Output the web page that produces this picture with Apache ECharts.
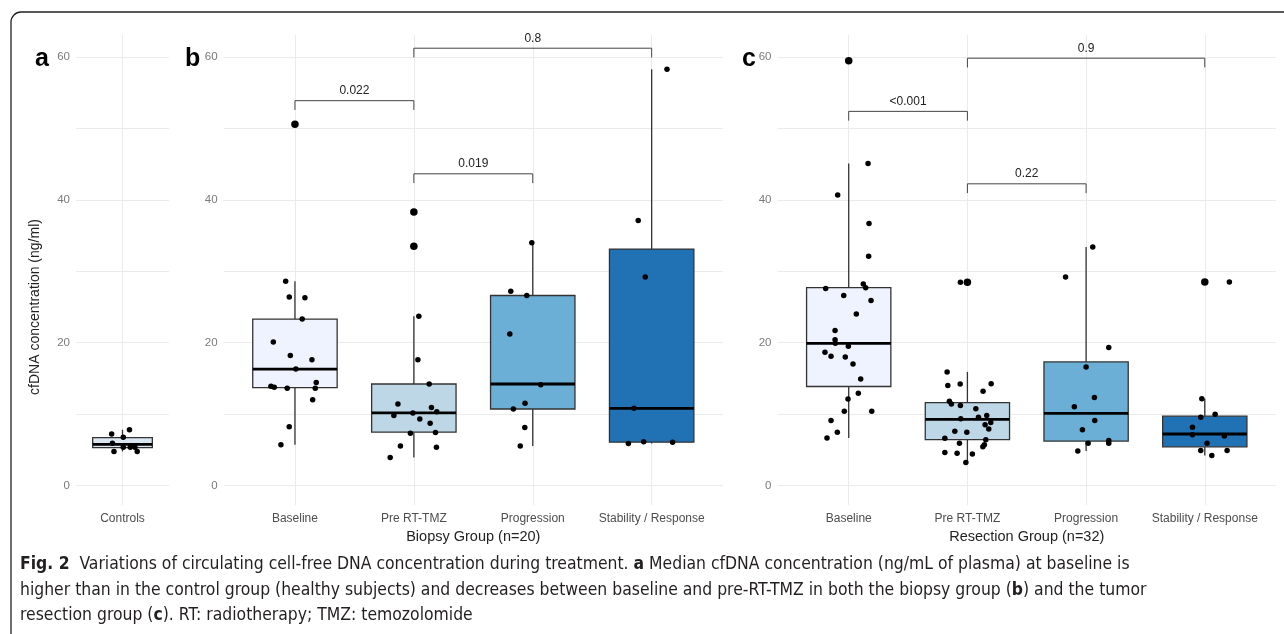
<!DOCTYPE html>
<html>
<head>
<meta charset="utf-8">
<script src="https://cdn.jsdelivr.net/npm/echarts@6/dist/echarts.min.js"></script>
<style>
  html, body { margin: 0; background: #fff; }
  #chart { width: 1284px; height: 634px; }
</style>
</head>
<body>
<div id="chart"></div>
<script>
// shared y scale (ng/ml)
const yLabelTicks = [0, 20, 40, 60];
const yGridTicks = [0, 10, 20, 30, 40, 50, 60];

const controlCats = ['Controls'];
const groupCats = ['Baseline', 'Pre RT-TMZ', 'Progression', 'Stability / Response'];

// box stats: [lower whisker, Q1, median, Q3, upper whisker]
const controlBox = [[4.75, 5.3, 5.75, 6.7, 7.8]];
const biopsyBox = [
  [5.7, 13.7, 16.3, 23.3, 28.6],
  [3.9, 7.45, 10.15, 14.2, 23.7],
  [5.5, 10.7, 14.2, 26.6, 34.0],
  [5.85, 6.05, 10.8, 33.1, 58.3]
];
const resectionBox = [
  [6.65, 13.85, 19.9, 27.7, 45.1],
  [3.2, 6.4, 9.25, 11.6, 15.9],
  [4.8, 6.2, 10.1, 17.3, 33.4],
  [4.2, 5.4, 7.2, 9.7, 12.15]
];

// outliers: [category (1-based), value]
const biopsyOutliers = [[1, 50.6], [2, 38.3], [2, 33.5]];
const resectionOutliers = [[1, 59.5], [2, 28.45], [4, 28.5]];

// jittered points: [category + jitter, value]
const controlPoints = [
  [0.86, 7.2], [1.09, 7.8], [1.01, 6.75], [0.87, 5.9], [0.89, 4.75],
  [1.01, 5.35], [1.1, 5.35], [1.16, 5.35], [1.19, 4.75]
];
const biopsyPoints = [
  [0.922, 28.6], [0.952, 26.4], [1.084, 26.3], [1.061, 23.3], [0.818, 20.1],
  [0.961, 18.2], [1.143, 17.6], [1.008, 16.3], [0.798, 13.9], [0.826, 13.75],
  [0.935, 13.6], [1.179, 14.4], [1.171, 13.6], [1.149, 12.0], [0.952, 8.2],
  [0.882, 5.7], [1.0, 50.6],
  [2.042, 23.7], [2.034, 17.6], [2.129, 14.2], [1.866, 11.4], [1.832, 9.8],
  [1.992, 10.15], [2.05, 9.3], [2.148, 10.9], [2.193, 10.3], [2.137, 8.7],
  [1.971, 7.3], [2.182, 7.4], [1.887, 5.5], [2.19, 5.35], [1.801, 3.9],
  [2.005, 38.3], [2.005, 33.5],
  [2.992, 34.0], [2.815, 27.2], [2.95, 26.6], [2.807, 21.2], [3.067, 14.1],
  [2.935, 11.5], [2.837, 10.7], [2.933, 8.1], [2.895, 5.5],
  [4.129, 58.3], [3.887, 37.1], [3.946, 29.2], [3.851, 10.8], [3.804, 5.85],
  [3.933, 6.1], [4.176, 6.05]
];
const resectionPoints = [
  [1.163, 45.1], [0.907, 40.7], [1.171, 36.7], [1.168, 32.1], [1.123, 28.2],
  [1.143, 27.7], [0.806, 27.6], [0.958, 26.6], [1.188, 25.9], [1.064, 24.0],
  [0.885, 21.7], [0.885, 20.4], [0.887, 19.9], [0.997, 19.5], [0.8, 18.65],
  [0.851, 18.1], [0.971, 18.0], [1.036, 17.0], [1.101, 14.9], [1.081, 12.9],
  [0.994, 12.1], [0.963, 10.4], [1.194, 10.4], [0.851, 9.1], [0.904, 7.45],
  [0.817, 6.65], [1.0, 59.5],
  [1.941, 28.45], [1.829, 15.9], [1.835, 14.0], [1.939, 14.2], [2.2, 14.25],
  [2.132, 13.2], [1.848, 11.8], [1.865, 11.4], [1.941, 11.2], [2.071, 10.75],
  [2.093, 9.55], [2.163, 9.8], [1.944, 9.35], [2.149, 8.5], [2.197, 8.8],
  [2.18, 7.9], [1.894, 7.6], [1.995, 7.45], [1.81, 6.6], [2.155, 6.4],
  [2.143, 5.7], [2.13, 5.4], [1.933, 5.9], [1.81, 4.6], [1.913, 4.5],
  [2.042, 4.4], [1.987, 3.2],
  [3.056, 33.4], [2.827, 29.2], [3.191, 19.3], [3.0, 16.6], [3.07, 12.3],
  [2.901, 11.0], [3.073, 9.1], [2.969, 7.8], [3.191, 6.3], [3.191, 5.9],
  [3.017, 5.9], [2.93, 4.8],
  [4.207, 28.5], [3.975, 12.15], [4.087, 9.95], [3.966, 9.55], [3.896, 8.15],
  [3.896, 7.1], [4.165, 6.9], [4.019, 5.9], [3.966, 4.9], [4.188, 4.9],
  [4.059, 4.2]
];

// p-value brackets: [from, to, height, label]
const biopsyBrackets = [[1, 2, 53.9, '0.022'], [2, 3, 43.65, '0.019'], [2, 4, 61.25, '0.8']];
const resectionBrackets = [[1, 2, 52.4, '<0.001'], [2, 3, 42.25, '0.22'], [2, 4, 59.85, '0.9']];

const boxFills = ['#eff3ff', '#bdd7e7', '#6baed6', '#2171b5'];
const controlFill = ['#dbe6f3'];
const yMin = -2.75, yMax = 63.1;
const font = "'Liberation Sans', Arial, sans-serif";

const chart = echarts.init(document.getElementById('chart'));

function boxRenderer(widthFrac, fills) {
  return function (params, api) {
    const c = api.value(0);
    const w = api.size([widthFrac, 0])[0];
    const lo = api.coord([c, api.value(1)]);
    const q1 = api.coord([c, api.value(2)]);
    const md = api.coord([c, api.value(3)]);
    const q3 = api.coord([c, api.value(4)]);
    const hi = api.coord([c, api.value(5)]);
    const x = lo[0];
    const ln = { stroke: '#333', lineWidth: 1.3 };
    return {
      type: 'group',
      children: [
        { type: 'line', shape: { x1: x, y1: hi[1], x2: x, y2: q3[1] }, style: ln },
        { type: 'line', shape: { x1: x, y1: q1[1], x2: x, y2: lo[1] }, style: ln },
        { type: 'rect', shape: { x: x - w / 2, y: q3[1], width: w, height: q1[1] - q3[1] },
          style: { fill: fills[params.dataIndex], stroke: '#333', lineWidth: 1.3 } },
        { type: 'line', shape: { x1: x - w / 2, y1: md[1], x2: x + w / 2, y2: md[1] },
          style: { stroke: '#000', lineWidth: 2.8 } }
      ]
    };
  };
}

function bracketRenderer(list) {
  return function (params, api) {
    const b = list[params.dataIndex];
    const p1 = api.coord([b[0], b[2]]);
    const p2 = api.coord([b[1], b[2]]);
    const tip = api.size([0, 1.3])[1];
    return {
      type: 'group',
      children: [
        { type: 'polyline',
          shape: { points: [[p1[0], p1[1] + tip], p1, p2, [p2[0], p2[1] + tip]] },
          style: { stroke: '#444', lineWidth: 1, fill: null } },
        { type: 'text', x: (p1[0] + p2[0]) / 2, y: p1[1] - 10,
          style: { text: b[3], fill: '#222', font: '12px ' + font, align: 'center', verticalAlign: 'middle' } }
      ]
    };
  };
}

function xAxisFor(idx, cats, name) {
  const ticks = cats.map((c, i) => i + 1);
  return {
    type: 'value', gridIndex: idx, min: 0.4, max: cats.length + 0.6,
    axisLine: { show: false },
    axisTick: { show: false, customValues: ticks },
    splitLine: { show: true, lineStyle: { color: '#ebebeb', width: 1 } },
    axisLabel: {
      customValues: ticks, margin: 8, color: '#4d4d4d', fontSize: 12, fontFamily: font,
      formatter: v => cats[Math.round(v) - 1] || ''
    },
    name: name, nameLocation: 'middle', nameGap: 23,
    nameTextStyle: { color: '#222', fontSize: 14.5, fontFamily: font }
  };
}

function yAxisFor(idx) {
  return {
    type: 'value', gridIndex: idx, min: yMin, max: yMax,
    axisLine: { show: false },
    axisTick: { show: false, customValues: yGridTicks },
    splitLine: { show: true, lineStyle: { color: '#ebebeb', width: 1 } },
    axisLabel: { customValues: yLabelTicks, margin: 6, color: '#7a7a7a', fontSize: 11.5, fontFamily: font }
  };
}

function panelSeries(idx, boxes, fills, widthFrac, outliers, points, brackets) {
  const s = [
    { type: 'custom', xAxisIndex: idx, yAxisIndex: idx, z: 2, silent: true,
      renderItem: boxRenderer(widthFrac, fills),
      encode: { x: 0, y: [1, 2, 3, 4, 5] },
      data: boxes.map((b, i) => [i + 1].concat(b)) },
    { type: 'scatter', xAxisIndex: idx, yAxisIndex: idx, z: 3, silent: true,
      symbolSize: 7.5, itemStyle: { color: '#000', opacity: 1 }, data: outliers },
    { type: 'scatter', xAxisIndex: idx, yAxisIndex: idx, z: 4, silent: true,
      symbolSize: 5.5, itemStyle: { color: '#000', opacity: 1 }, data: points }
  ];
  if (brackets) {
    s.push({ type: 'custom', xAxisIndex: idx, yAxisIndex: idx, z: 5, silent: true,
      renderItem: bracketRenderer(brackets),
      encode: { x: [0, 1], y: 2 },
      data: brackets.map(b => [b[0], b[1], b[2]]) });
  }
  return s;
}

// caption, condensed face like the journal's
const capFont = "'DejaVu Sans Condensed', 'Liberation Sans Narrow', sans-serif";
const capSize = 17.4;
const capRich = { b: { fontWeight: 'bold', fontFamily: capFont, fontSize: capSize, fill: '#231f20' } };
function capLine(text, y) {
  return { type: 'text', x: 20, y: y,
    style: { text: text, fill: '#231f20', font: capSize + 'px ' + capFont, rich: capRich, verticalAlign: 'middle' } };
}

const option = {
  animation: false,
  backgroundColor: '#fff',
  grid: [
    { left: 76, top: 35, width: 93, height: 470 },
    { left: 223.6, top: 35, width: 499.4, height: 470 },
    { left: 777.5, top: 35, width: 498.5, height: 470 }
  ],
  xAxis: [
    xAxisFor(0, controlCats, ''),
    xAxisFor(1, groupCats, 'Biopsy Group (n=20)'),
    xAxisFor(2, groupCats, 'Resection Group (n=32)')
  ],
  yAxis: [yAxisFor(0), yAxisFor(1), yAxisFor(2)],
  series: [].concat(
    panelSeries(0, controlBox, controlFill, 0.77, [], controlPoints, null),
    panelSeries(1, biopsyBox, boxFills, 0.71, biopsyOutliers, biopsyPoints, biopsyBrackets),
    panelSeries(2, resectionBox, boxFills, 0.71, resectionOutliers, resectionPoints, resectionBrackets)
  ),
  graphic: [
    { type: 'rect', shape: { x: 11, y: 12, width: 1400, height: 800, r: [10, 0, 0, 0] },
      style: { fill: null, stroke: '#222', lineWidth: 1.3 }, silent: true },
    { type: 'text', x: 35, y: 307, rotation: Math.PI / 2,
      style: { text: 'cfDNA concentration (ng/ml)', fill: '#222', font: '14px ' + font,
        align: 'center', verticalAlign: 'middle' } },
    { type: 'text', x: 35, y: 47, style: { text: 'a', fill: '#000', font: 'bold 25px ' + font, verticalAlign: 'alphabetic' } },
    { type: 'text', x: 185, y: 47, style: { text: 'b', fill: '#000', font: 'bold 25px ' + font, verticalAlign: 'alphabetic' } },
    { type: 'text', x: 742, y: 47, style: { text: 'c', fill: '#000', font: 'bold 25px ' + font, verticalAlign: 'alphabetic' } },
    capLine('{b|Fig. 2}  Variations of circulating cell-free DNA concentration during treatment. {b|a} Median cfDNA concentration (ng/mL of plasma) at baseline is', 564),
    capLine('higher than in the control group (healthy subjects) and decreases between baseline and pre-RT-TMZ in both the biopsy group ({b|b}) and the tumor', 590),
    capLine('resection group ({b|c}). RT: radiotherapy; TMZ: temozolomide', 615)
  ]
};

chart.setOption(option);
</script>
</body>
</html>
